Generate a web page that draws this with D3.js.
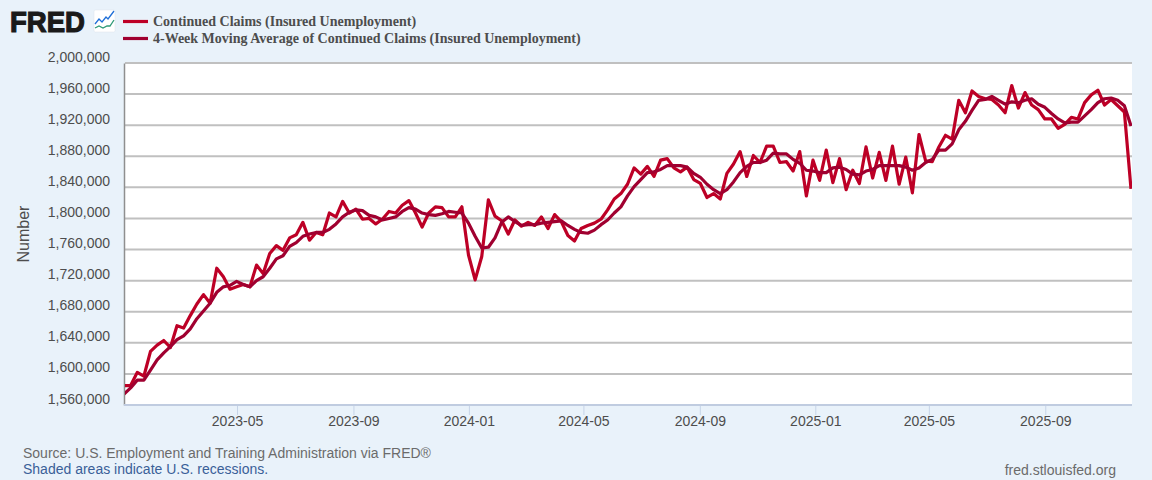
<!DOCTYPE html>
<html>
<head>
<meta charset="utf-8">
<script src="https://cdn.jsdelivr.net/npm/d3@7"></script>
<style>
html,body{margin:0;padding:0;background:#e9f2fa;}
svg{display:block;}
text{font-family:"Liberation Sans",Arial,sans-serif;}
</style>
</head>
<body>
<svg id="chart" width="1152" height="480"></svg>
<script>
const firstWeek = "2022-12-31";
const claims = [1585,1585,1602,1597,1629,1637,1643,1634,1662,1659,1675,1690,1702,1691,1736,1725,1709,1712,1715,1712,
1740,1729,1755,1765,1759,1775,1779,1795,1772,1782,1779,1807,1802,1822,1807,1812,1799,1800,1793,1799,
1809,1807,1817,1823,1807,1789,1807,1815,1814,1802,1802,1815,1753,1721,1751,1824,1803,1797,1780,1798,
1790,1795,1791,1802,1787,1805,1796,1778,1771,1787,1791,1794,1799,1811,1825,1832,1844,1865,1857,1867,
1854,1875,1877,1865,1860,1866,1850,1845,1827,1832,1825,1858,1870,1886,1854,1881,1872,1893,1893,1872,
1873,1861,1886,1829,1875,1849,1888,1846,1877,1837,1862,1845,1892,1852,1885,1849,1893,1844,1879,1833,
1908,1874,1873,1892,1907,1902,1952,1936,1964,1957,1954,1953,1946,1936,1971,1942,1962,1946,1940,1928,
1928,1916,1921,1930,1928,1949,1959,1965,1946,1953,1945,1937,1838].map(v => v * 1000);
const movingAvg = [1574,1582,1592,1592,1605,1618,1627,1635,1644,1649,1658,1671,1681,1691,1705,1712,1714,1719,1715,1712,
1720,1725,1736,1748,1752,1764,1769,1777,1780,1782,1782,1786,1793,1802,1808,1811,1810,1804,1802,1798,
1800,1802,1809,1814,1812,1807,1805,1804,1806,1809,1808,1807,1794,1777,1762,1763,1775,1795,1802,1796,
1791,1792,1792,1794,1795,1796,1797,1791,1786,1782,1781,1785,1792,1798,1807,1815,1829,1841,1850,1859,
1860,1863,1868,1868,1868,1866,1858,1853,1844,1837,1832,1837,1847,1859,1867,1872,1872,1875,1884,1883,
1883,1876,1871,1862,1861,1859,1859,1865,1866,1863,1857,1856,1861,1863,1868,1868,1868,1868,1866,1862,
1865,1872,1876,1888,1888,1896,1914,1925,1939,1952,1953,1957,1952,1947,1950,1949,1952,1954,1947,1943,
1935,1928,1923,1924,1924,1932,1940,1949,1954,1955,1952,1945,1919].map(v => v * 1000);
const yTicks = [1560000,1600000,1640000,1680000,1720000,1760000,1800000,1840000,1880000,1920000,1960000,2000000];
const yTickLabels = ["1,560,000","1,600,000","1,640,000","1,680,000","1,720,000","1,760,000","1,800,000","1,840,000","1,880,000","1,920,000","1,960,000","2,000,000"];
const xTicks = ["2023-05-01","2023-09-01","2024-01-01","2024-05-01","2024-09-01","2025-01-01","2025-05-01","2025-09-01"];
const legendLabels = ["Continued Claims (Insured Unemployment)","4-Week Moving Average of Continued Claims (Insured Unemployment)"];
const colors = ["#bd0026","#a00030"];

const svg = d3.select("#chart");
const L = 125, R = 1132, T = 63, B = 405;
svg.append("rect").attr("width",1152).attr("height",480).attr("fill","#e9f2fa");
svg.append("rect").attr("x",L).attr("y",T).attr("width",R-L).attr("height",B-T).attr("fill","#fff");

const start = new Date(firstWeek + "T00:00:00Z");
const dates = claims.map((_, i) => d3.utcDay.offset(start, 7 * i));
const x = d3.scaleUtc().domain([start, dates[dates.length-1]]).range([124, 1131]);
const y = d3.scaleLinear().domain([1560000, 2000000]).range([B, T]);

// Grid
svg.append("g").selectAll("line").data(yTicks.slice(1)).join("line")
  .attr("x1",L).attr("x2",R).attr("y1",d=>y(d)).attr("y2",d=>y(d))
  .attr("stroke","#c0c0c0").attr("stroke-width",2);

// Y axis
const yAxis = d3.axisLeft(y).tickValues(yTicks).tickSize(0).tickPadding(14)
  .tickFormat((d,i)=>yTickLabels[i]);
const gy = svg.append("g").attr("transform",`translate(${L-1},0)`).call(yAxis);
gy.select(".domain").attr("stroke","#8f8f8f").attr("stroke-width",1.5);
gy.selectAll("text").attr("font-size",14).attr("fill","#4d4d4d").attr("dy","-0.14em")
  .style("font-family",'"Liberation Sans",Arial,sans-serif');

// X axis
const xAxis = d3.axisBottom(x).tickValues(xTicks.map(s=>new Date(s+"T00:00:00Z")))
  .tickSize(10).tickPadding(1).tickFormat(d3.utcFormat("%Y-%m"));
const gx = svg.append("g").attr("transform",`translate(-1.5,${B})`).call(xAxis);
gx.select(".domain").remove();
gx.selectAll("line").attr("stroke","#c6d4e8").attr("stroke-width",1);
gx.selectAll("text").attr("font-size",14).attr("fill","#4d4d4d")
  .style("font-family",'"Liberation Sans",Arial,sans-serif');
svg.append("line").attr("x1",L-1).attr("x2",R).attr("y1",B).attr("y2",B)
  .attr("stroke","#c0cce0").attr("stroke-width",2);

// Series
const line = d3.line().x((d,i)=>x(dates[i])).y(d=>y(d));
const clipId = "plotClip";
svg.append("clipPath").attr("id",clipId).append("rect").attr("x",L).attr("y",T).attr("width",R-L).attr("height",B-T);
[claims, movingAvg].forEach((s,k)=>{
  svg.append("path").datum(s).attr("d",line).attr("clip-path",`url(#${clipId})`)
    .attr("fill","none").attr("stroke",colors[k]).attr("stroke-width",3.2)
    .attr("stroke-linejoin","round").attr("stroke-linecap","butt");
});

// Legend
[21.5,38.5].forEach((ly,k)=>{
  svg.append("line").attr("x1",123).attr("x2",148).attr("y1",ly).attr("y2",ly)
    .attr("stroke",colors[k]).attr("stroke-width",3.2);
  svg.append("text").attr("x",153).attr("y",ly+4.5).text(legendLabels[k])
    .attr("font-size",14).attr("font-weight","bold").attr("fill","#4d4d4d")
    .style("font-family",'"Liberation Serif","Times New Roman",serif');
});

// Logo
svg.append("text").attr("x",10).attr("y",32).text("FRED")
  .attr("font-size",30).attr("font-weight","bold").attr("fill","#1a1a1a")
  .attr("stroke","#1a1a1a").attr("stroke-width",1.2).attr("textLength",75).attr("lengthAdjust","spacingAndGlyphs");
const icon = svg.append("g").attr("transform","translate(94,10)");
icon.append("rect").attr("width",21).attr("height",22).attr("rx",1.5).attr("fill","#fff").attr("stroke","#dde3ea").attr("stroke-width",0.5);
icon.append("path").attr("d","M1,14 L5,9 L8,12 L12,7 L14,9 L17,5 L20,1").attr("fill","none").attr("stroke","#1f6fd8").attr("stroke-width",1.3);
icon.append("path").attr("d","M1,18 L5,16 L9,18 L13,16 L16,16 L20,10").attr("fill","none").attr("stroke","#2f9a78").attr("stroke-width",1.3);

// Y title
svg.append("text").attr("transform","translate(29,234) rotate(-90)").attr("text-anchor","middle")
  .text("Number").attr("font-size",16).attr("fill","#4d4d4d");

// Footer
svg.append("text").attr("x",23).attr("y",458).text("Source: U.S. Employment and Training Administration via FRED®")
  .attr("font-size",14).attr("fill","#6b6b6b");
svg.append("text").attr("x",23).attr("y",474).text("Shaded areas indicate U.S. recessions.")
  .attr("font-size",14).attr("fill","#3a6098");
svg.append("text").attr("x",1116).attr("y",475).attr("text-anchor","end").text("fred.stlouisfed.org")
  .attr("font-size",14).attr("fill","#6b6b6b");
</script>
</body>
</html>
